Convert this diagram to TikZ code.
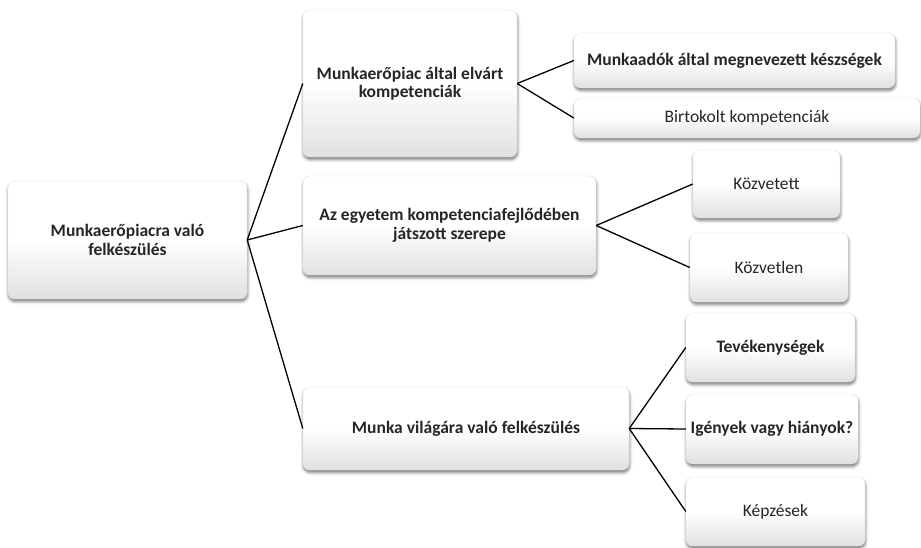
\documentclass[tikz,border=0pt]{standalone}
\usepackage{fontspec}
\setmainfont{Carlito}
\usetikzlibrary{shadows.blur}
\tikzset{
  box/.style={rectangle, rounded corners=7pt, draw=black!10, line width=0.4pt,
    top color=white, bottom color=black!12, middle color=white,
    blur shadow={shadow xshift=0.5pt, shadow yshift=-2.5pt, shadow blur radius=3pt, shadow opacity=55},
    align=center, inner sep=2pt, text=black!85, font=\fontsize{17.5}{18.5}\selectfont},
  bbox/.style={box, font=\fontsize{17.5}{18.5}\selectfont\bfseries},
  link/.style={draw=black, line width=1.3pt}
}
\begin{document}
\begin{tikzpicture}[x=1pt,y=-1pt]
\useasboundingbox (0,0) rectangle (921,547);
\node[bbox, minimum width=239pt, minimum height=118pt] (root) at (127.5,240) {Munkaerőpiacra való\\felkészülés};
\node[bbox, minimum width=214pt, minimum height=147pt] (A) at (410,83.5) {Munkaerőpiac által elvárt\\kompetenciák};
\node[bbox, minimum width=321pt, minimum height=55pt] (A1) at (734.5,60.5) {Munkaadók által megnevezett készségek};
\node[box, minimum width=346pt, minimum height=40pt] (A2) at (747,118) {Birtokolt kompetenciák};
\node[bbox, minimum width=293pt, minimum height=99pt] (B) at (449.5,225.5) {Az egyetem kompetenciafejlődében\\játszott szerepe};
\node[box, minimum width=147pt, minimum height=68pt] (B1) at (766.5,184) {Közvetett};
\node[box, minimum width=158pt, minimum height=69pt] (B2) at (769,267.5) {Közvetlen};
\node[bbox, minimum width=326pt, minimum height=83pt] (C) at (466,428.5) {Munka világára való felkészülés};
\node[bbox, minimum width=169pt, minimum height=69pt] (C1) at (770.5,347.5) {Tevékenységek};
\node[bbox, minimum width=172pt, minimum height=70pt] (C2) at (772,429) {Igények vagy hiányok?};
\node[box, minimum width=179pt, minimum height=69pt] (C3) at (775.5,511.5) {Képzések};
\draw[link] (root.east) -- (A.west);
\draw[link] (root.east) -- (B.west);
\draw[link] (root.east) -- (C.west);
\draw[link] (A.east) -- (A1.west);
\draw[link] (A.east) -- (A2.west);
\draw[link] (B.east) -- (B1.west);
\draw[link] (B.east) -- (B2.west);
\draw[link] (C.east) -- (C1.west);
\draw[link] (C.east) -- (C2.west);
\draw[link] (C.east) -- (C3.west);
\end{tikzpicture}
\end{document}
